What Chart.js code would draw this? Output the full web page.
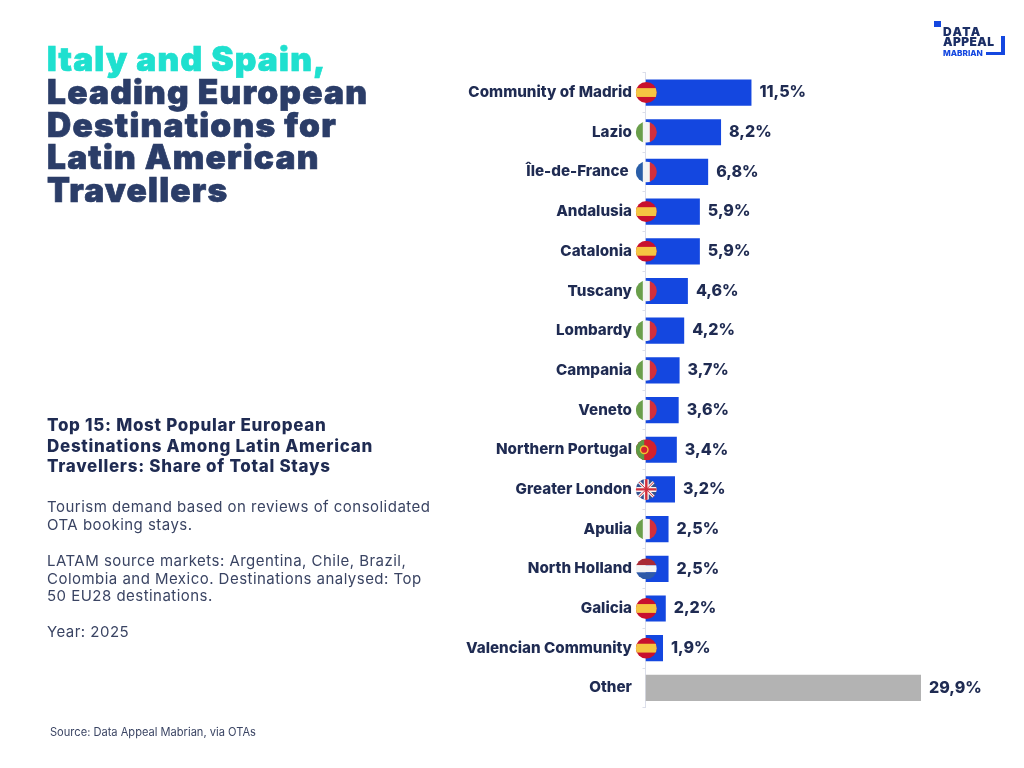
<!DOCTYPE html>
<html>
<head>
<meta charset="utf-8">
<title>Italy and Spain</title>
<script src="https://cdn.jsdelivr.net/npm/chart.js@4"></script>
<style>
    html, body { margin: 0; padding: 0; background: #fff; }
    #pagina { position: relative; width: 1024px; height: 768px; overflow: hidden; font-family: Inter, sans-serif; }
    #grafico { position: absolute; left: 0; top: 0; }
    .t { position: absolute; white-space: nowrap; }
    .titulo { left: 47px; font-size: 33.5px; font-weight: 900; color: #2b3d68; letter-spacing: 1.2px; line-height: 33px; -webkit-text-stroke: 0.7px currentColor; }
    .sub { left: 47px; font-size: 17px; font-weight: 800; color: #1f2b52; line-height: 21px; letter-spacing: 0.7px; }
    .nota { left: 47px; font-size: 15px; color: #3a4463; line-height: 20px; letter-spacing: 0.47px; }
    .fuente { left: 50px; top: 725px; font-size: 11.1px; color: #3a4463; }
    .logo { left: 943px; font-weight: 900; color: #1c2f66; font-size: 12px; line-height: 12px; letter-spacing: 0.4px; }
    .caja { position: absolute; background: #1447e0; }
</style>
</head>
<body>
<div id="pagina">
    <canvas id="grafico" width="1024" height="768"></canvas>

    <div class="t titulo" style="top:43px;color:#1fe0cf">Italy and Spain,</div>
    <div class="t titulo" style="top:76px">Leading European</div>
    <div class="t titulo" style="top:109px">Destinations for</div>
    <div class="t titulo" style="top:141px">Latin American</div>
    <div class="t titulo" style="top:174px">Travellers</div>

    <div class="t sub" style="top:415px">Top 15: Most Popular European</div>
    <div class="t sub" style="top:436px">Destinations Among Latin American</div>
    <div class="t sub" style="top:456px">Travellers: Share of Total Stays</div>

    <div class="t nota" style="top:497px">Tourism demand based on reviews of consolidated</div>
    <div class="t nota" style="top:515px">OTA booking stays.</div>
    <div class="t nota" style="top:551px">LATAM source markets: Argentina, Chile, Brazil,</div>
    <div class="t nota" style="top:569px">Colombia and Mexico. Destinations analysed: Top</div>
    <div class="t nota" style="top:586px">50 EU28 destinations.</div>
    <div class="t nota" style="top:622px">Year: 2025</div>

    <div class="t fuente">Source: Data Appeal Mabrian, via OTAs</div>

    <!-- logo -->
    <div class="caja" style="left:934px;top:21px;width:7px;height:6px"></div>
    <div class="t logo" style="top:25.5px;letter-spacing:1.4px">DATA</div>
    <div class="t logo" style="top:35.5px">APPEAL</div>
    <div class="t logo" style="top:47px;font-size:8.2px;color:#1447e0;font-weight:800;letter-spacing:0">MABRIAN</div>
    <div class="caja" style="left:1001px;top:36px;width:4px;height:19px"></div>
    <div class="caja" style="left:986px;top:52px;width:19px;height:3px"></div>
</div>

<script>
// Datos
const destinos = ['Community of Madrid', 'Lazio', 'Île-de-France', 'Andalusia', 'Catalonia', 'Tuscany', 'Lombardy', 'Campania', 'Veneto', 'Northern Portugal', 'Greater London', 'Apulia', 'North Holland', 'Galicia', 'Valencian Community', 'Other'];
const cuota = [11.5, 8.2, 6.8, 5.9, 5.9, 4.6, 4.2, 3.7, 3.6, 3.4, 3.2, 2.5, 2.5, 2.2, 1.9, 29.9];
const paises = ['es', 'it', 'fr', 'es', 'es', 'it', 'it', 'it', 'it', 'pt', 'uk', 'it', 'nl', 'es', 'es', null];

const AZUL = '#1447e0';
const GRIS = '#b3b3b3';
const TEXTO = '#1f2b52';
const RADIO = 10.5;

function franjasV(ctx, x, y, r, colores) {
    const w = 2 * r / colores.length;
    colores.forEach((c, i) => {
        ctx.fillStyle = c;
        ctx.fillRect(x - r + i * w, y - r, w + 0.5, 2 * r);
    });
}

function dibujarBandera(ctx, pais, x, y, r) {
    ctx.save();
    ctx.beginPath();
    ctx.arc(x, y, r, 0, Math.PI * 2);
    ctx.clip();
    if (pais === 'es') {
        ctx.fillStyle = '#c8102e';
        ctx.fillRect(x - r, y - r, 2 * r, 2 * r);
        ctx.fillStyle = '#f5c542';
        ctx.fillRect(x - r, y - r * 0.42, 2 * r, r * 0.84);
    } else if (pais === 'it') {
        franjasV(ctx, x, y, r, ['#6a9f4b', '#f4f4f4', '#d22f3c']);
    } else if (pais === 'fr') {
        franjasV(ctx, x, y, r, ['#2a5ea8', '#f4f4f4', '#d22f3c']);
    } else if (pais === 'nl') {
        ctx.fillStyle = '#a92a35';
        ctx.fillRect(x - r, y - r, 2 * r, 2 * r / 3);
        ctx.fillStyle = '#f4f4f4';
        ctx.fillRect(x - r, y - r / 3, 2 * r, 2 * r / 3);
        ctx.fillStyle = '#2f5aa8';
        ctx.fillRect(x - r, y + r / 3, 2 * r, 2 * r / 3);
    } else if (pais === 'pt') {
        ctx.fillStyle = '#d3212d';
        ctx.fillRect(x - r, y - r, 2 * r, 2 * r);
        ctx.fillStyle = '#5f9a45';
        ctx.fillRect(x - r, y - r, r * 0.8, 2 * r);
        ctx.beginPath();
        ctx.arc(x - r * 0.2, y, r * 0.36, 0, Math.PI * 2);
        ctx.fillStyle = '#d3212d';
        ctx.fill();
        ctx.lineWidth = 1.4;
        ctx.strokeStyle = '#f2c230';
        ctx.stroke();
    } else if (pais === 'uk') {
        ctx.fillStyle = '#34508f';
        ctx.fillRect(x - r, y - r, 2 * r, 2 * r);
        const lineas = [[-r, -r, r, r], [-r, r, r, -r], [0, -r, 0, r], [-r, 0, r, 0]];
        lineas.forEach((l, i) => {
            ctx.beginPath();
            ctx.moveTo(x + l[0], y + l[1]);
            ctx.lineTo(x + l[2], y + l[3]);
            ctx.strokeStyle = '#f4f4f4';
            ctx.lineWidth = i < 2 ? 3 : 5;
            ctx.stroke();
        });
        lineas.forEach((l, i) => {
            ctx.beginPath();
            ctx.moveTo(x + l[0], y + l[1]);
            ctx.lineTo(x + l[2], y + l[3]);
            ctx.strokeStyle = '#d22f3c';
            ctx.lineWidth = i < 2 ? 1 : 2.4;
            ctx.stroke();
        });
    }
    ctx.restore();
}

// Etiquetas de valor y banderas encima de las barras
const extras = {
    id: 'extras',
    afterDatasetsDraw(chart) {
        const ctx = chart.ctx;
        const x0 = chart.scales.x.getPixelForValue(0);
        chart.getDatasetMeta(0).data.forEach((barra, i) => {
            ctx.save();
            ctx.font = '800 16px Inter, sans-serif';
            ctx.fillStyle = TEXTO;
            ctx.textAlign = 'left';
            ctx.textBaseline = 'middle';
            ctx.fillText(cuota[i].toFixed(1).replace('.', ',') + '%', barra.x + 8, barra.y);
            ctx.restore();
            if (paises[i]) dibujarBandera(ctx, paises[i], x0 + 0.8, barra.y, RADIO);
        });
    }
};

new Chart(document.getElementById('grafico').getContext('2d'), {
    type: 'bar',
    plugins: [extras],
    data: {
        labels: destinos,
        datasets: [{
            data: cuota,
            backgroundColor: destinos.map(d => d === 'Other' ? GRIS : AZUL),
            barPercentage: 0.66,
            categoryPercentage: 1
        }]
    },
    options: {
        indexAxis: 'y',
        responsive: false,
        animation: false,
        layout: { padding: { top: 72.7, bottom: 60.3, left: 0, right: 56 } },
        plugins: { legend: { display: false }, tooltip: { enabled: false } },
        scales: {
            x: { display: false, min: 0, max: 35 },
            y: {
                afterFit(eje) { eje.width = 645.5; },
                border: { color: '#dcdfea', width: 1 },
                grid: { drawOnChartArea: false, color: '#dcdfea', tickLength: 3 },
                ticks: {
                    padding: 10.5,
                    color: TEXTO,
                    autoSkip: false,
                    font: { family: 'Inter, sans-serif', size: 15.2, weight: '800' },
                    callback(valor, i) {
                        // esta etiqueta queda algo mas a la izquierda en el original
                        return destinos[i] === 'Île-de-France' ? destinos[i] + '\u00a0' : destinos[i];
                    }
                }
            }
        }
    }
});
</script>
</body>
</html>
